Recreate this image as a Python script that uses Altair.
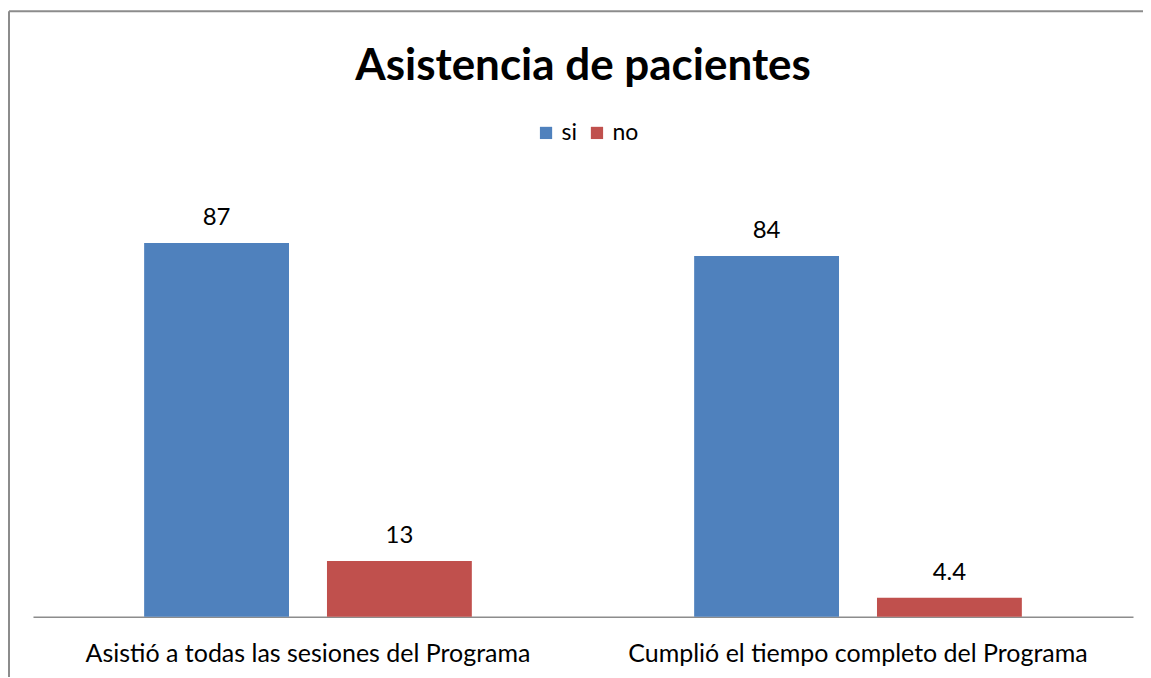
import altair as alt
import pandas as pd

categories = ["Asistió a todas las sesiones del Programa", "Cumplió el tiempo completo del Programa"]
series = ["si", "no"]
si_values = [87, 84]
no_values = [13, 4.4]
colors = ["#4F81BD", "#C0504D"]

rows = []
for i, c in enumerate(categories):
    rows.append({"cat": c, "serie": "si", "valor": si_values[i]})
    rows.append({"cat": c, "serie": "no", "valor": no_values[i]})
df = pd.DataFrame(rows)

FONT = "Lato"

base = alt.Chart(df).encode(
    x=alt.X("cat:N", sort=categories, title=None,
            scale=alt.Scale(paddingInner=0, paddingOuter=0),
            axis=alt.Axis(labelAngle=0, ticks=False, domainColor="#8c8c8c", domainWidth=1.5,
                          labelFontSize=25, labelFont=FONT, labelColor="#000000",
                          labelPadding=25, labelLimit=600)),
    xOffset=alt.XOffset("serie:N", sort=series,
                        scale=alt.Scale(paddingInner=0.2077, paddingOuter=0.608)),
)

bars = base.mark_bar().encode(
    y=alt.Y("valor:Q", scale=alt.Scale(domain=[0, 100]), axis=None),
    color=alt.Color("serie:N", sort=series,
                    scale=alt.Scale(domain=series, range=colors),
                    legend=alt.Legend(title=None, orient="none", direction="horizontal",
                                      legendX=502, legendY=-66, symbolType="square",
                                      symbolSize=150, symbolStrokeWidth=0,
                                      labelFontSize=23, labelFont=FONT, labelColor="#000000",
                                      labelOffset=4, columnPadding=8)),
)

labels = base.mark_text(baseline="bottom", dy=-13, fontSize=24, font=FONT, color="#000000").encode(
    y=alt.Y("valor:Q", scale=alt.Scale(domain=[0, 100]), axis=None),
    text=alt.Text("valor:Q"),
)

frame = alt.Chart(alt.Data(values=[{}])).mark_rule(color="#8c8c8c", strokeWidth=2).encode(
    x=alt.value(-24), y=alt.value(-176), y2=alt.value(520)
)
frame_top = alt.Chart(alt.Data(values=[{}])).mark_rule(color="#8c8c8c", strokeWidth=2).encode(
    x=alt.value(-24), x2=alt.value(1200), y=alt.value(-176)
)

chart = alt.layer(bars, labels, frame, frame_top).properties(
    width=1101, height=430,
    title=alt.Title("Asistencia de pacientes", fontSize=44, font=FONT, fontWeight="bold",
                    color="#000000", anchor="middle", offset=-79),
    autosize=alt.AutoSizeParams(type="none"),
    padding={"left": 25, "top": 179, "right": 10, "bottom": 60},
    background="white",
).configure_view(strokeWidth=0)

chart.save("out.html", embed_options={"renderer": "svg", "actions": False})
